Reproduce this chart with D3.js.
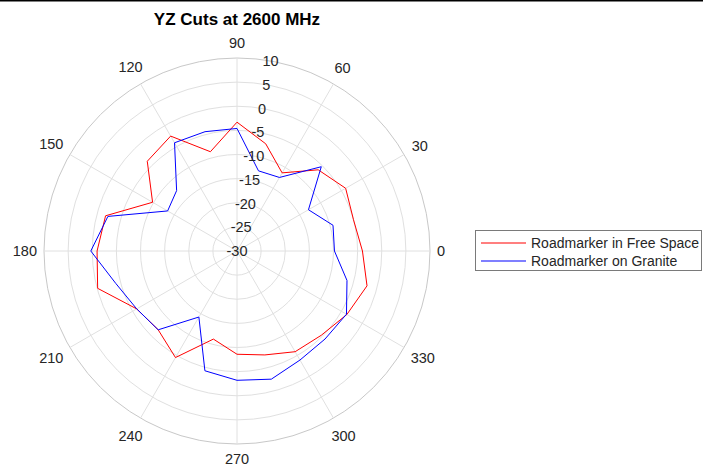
<!DOCTYPE html>
<html>
<head>
<meta charset="utf-8">
<script src="https://cdn.jsdelivr.net/npm/d3@7"></script>
<style>
html,body{margin:0;padding:0;background:#fff;}
svg{display:block;}
text{font-family:"Liberation Sans",Arial,Helvetica,sans-serif;}
</style>
</head>
<body>
<svg id="chart" width="703" height="471"></svg>
<script>
// ---- data ----
const angles = [0,15,30,45,60,75,90,105,120,135,150,165,180,195,210,225,240,255,270,285,300,315,330,345];
const freeSpace = [-4.0,-5.0,-4.0,-6.2,-11.3,-7.0,-3.3,-8.7,-2.5,-3.7,-9.8,-1.8,-1.0,-0.1,-6.0,-6.9,-4.5,-11.1,-8.6,-7.7,-5.9,-5.3,-3.7,-2.1];
const granite   = [-9.8,-9.4,-12.9,-5.3,-12.4,-12.8,-4.6,-4.4,-4.1,-12.3,-13.4,-2.3,0.3,-4.0,-6.0,-6.9,-14.2,-4.3,-3.2,-2.5,-3.9,-4.2,-3.8,-6.4];
const seriesNames = ["Roadmarker in Free Space","Roadmarker on Granite"];
const seriesColors = ["#ff0000","#0000ff"];
const rTicks = [-30,-25,-20,-15,-10,-5,0,5,10];
const thetaTicks = [0,30,60,90,120,150,180,210,240,270,300,330];
const title = "YZ Cuts at 2600 MHz";

// ---- layout ----
const svg = d3.select("#chart");
const cx = 237, cy = 251, R = 193;
const textColor = "#262626";
const rScale = d3.scaleLinear().domain([-30,10]).range([0,R]);
const rad = a => a*Math.PI/180;

// top border line
svg.append("line").attr("x1",0).attr("x2",703).attr("y1",0.75).attr("y2",0.75)
  .attr("stroke","#000").attr("stroke-width",1.5);

const g = svg.append("g").attr("transform",`translate(${cx},${cy})`);

// rings
g.selectAll("circle.ring").data(rTicks.filter(v=>v>-30)).enter().append("circle")
  .attr("class","ring").attr("r",d=>rScale(d)).attr("fill","none")
  .attr("stroke",d=>d===10?"#c8c8c8":"#e0e0e0").attr("stroke-width",1);

// spokes
g.selectAll("line.spoke").data(thetaTicks).enter().append("line")
  .attr("x1",0).attr("y1",0)
  .attr("x2",d=>R*Math.cos(rad(d))).attr("y2",d=>-R*Math.sin(rad(d)))
  .attr("stroke","#e0e0e0").attr("stroke-width",1);

// data lines
const lineGen = d3.lineRadial()
  .angle(d=>rad(90-d[0]))
  .radius(d=>rScale(d[1]))
  .curve(d3.curveLinearClosed);
[freeSpace,granite].forEach((vals,i)=>{
  g.append("path").datum(angles.map((a,j)=>[a,vals[j]]))
    .attr("d",lineGen).attr("fill","none")
    .attr("stroke",seriesColors[i]).attr("stroke-width",1);
});

// radial tick labels at 80 deg
g.selectAll("text.rlab").data(rTicks).enter().append("text")
  .attr("x",d=>rScale(d)*Math.cos(rad(80)))
  .attr("y",d=>-rScale(d)*Math.sin(rad(80)))
  .attr("text-anchor","middle").attr("dy","0.35em")
  .attr("font-size",14.5).attr("fill",textColor)
  .text(d=>d);

// angle labels
g.selectAll("text.tlab").data(thetaTicks).enter().append("text")
  .attr("text-anchor","middle").attr("dy","0.35em")
  .attr("font-size",14.5).attr("fill",textColor)
  .text(d=>d)
  .each(function(d){
    const w = this.getComputedTextLength();
    const c = Math.cos(rad(d)), s = Math.sin(rad(d));
    const rr = R + 7 + Math.abs(c)*w/2 + Math.abs(s)*8;
    d3.select(this).attr("x",rr*c).attr("y",-rr*s);
  });

// title
svg.append("text").attr("x",cx).attr("y",25).attr("text-anchor","middle")
  .attr("font-size",17).attr("font-weight","bold").attr("fill","#000")
  .text(title);

// legend
const lg = svg.append("g");
lg.append("rect").attr("x",475.5).attr("y",230.5).attr("width",226).attr("height",40)
  .attr("fill","#fff").attr("stroke","#7a7a7a").attr("stroke-width",1);
seriesNames.forEach((name,i)=>{
  const y = 243 + i*18;
  lg.append("path").attr("d",`M481,${y}L526,${y}`)
    .attr("fill","none")
    .style("stroke",seriesColors[i]).style("stroke-width","1.2px");
  lg.append("text").attr("x",531).attr("y",y).attr("dy","0.35em")
    .attr("font-size",14).attr("fill",textColor).text(name);
});
</script>
</body>
</html>
